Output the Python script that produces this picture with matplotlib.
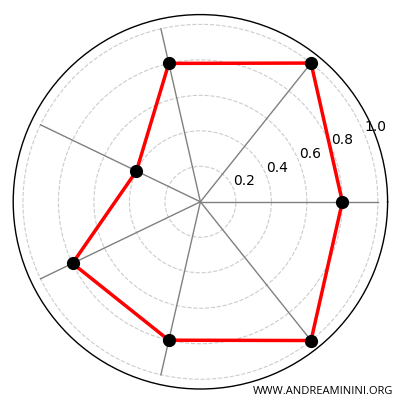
import numpy as np
import matplotlib
matplotlib.use("Agg")
import matplotlib.pyplot as plt

values = [0.8, 1.0, 0.8, 0.4, 0.8, 0.8, 1.0]
r_ticks = [0.2, 0.4, 0.6, 0.8, 1.0]
r_tick_labels = ["0.2", "0.4", "0.6", "0.8", "1.0"]
watermark = "WWW.ANDREAMININI.ORG"

n = len(values)
angles = np.linspace(0, 2 * np.pi, n, endpoint=False)

fig = plt.figure(figsize=(4, 4), dpi=100)
ax = fig.add_axes([0.033, 0.0275, 0.936, 0.936], projection="polar")

for a in angles:
    ax.plot([a, a], [0, 1.0], color="gray", lw=1.0, zorder=2)

closed_a = np.concatenate([angles, angles[:1]])
closed_v = values + values[:1]
ax.plot(closed_a, closed_v, color="red", lw=2.5, zorder=3)
ax.plot(angles, values, "o", color="black", markersize=8.5, zorder=4)

ax.set_xticks([])
ax.set_yticks(r_ticks)
ax.set_yticklabels(r_tick_labels, fontsize=10)
ax.set_ylim(0, 1.055)
ax.yaxis.grid(True, linestyle="--", color="#cccccc", lw=0.8)
ax.xaxis.grid(False)
ax.spines["polar"].set_linewidth(1.0)

fig.text(0.982, 0.014, watermark, ha="right", va="baseline", fontsize=8,
         family="Open Sans")

fig.savefig("out.png", dpi=100)
